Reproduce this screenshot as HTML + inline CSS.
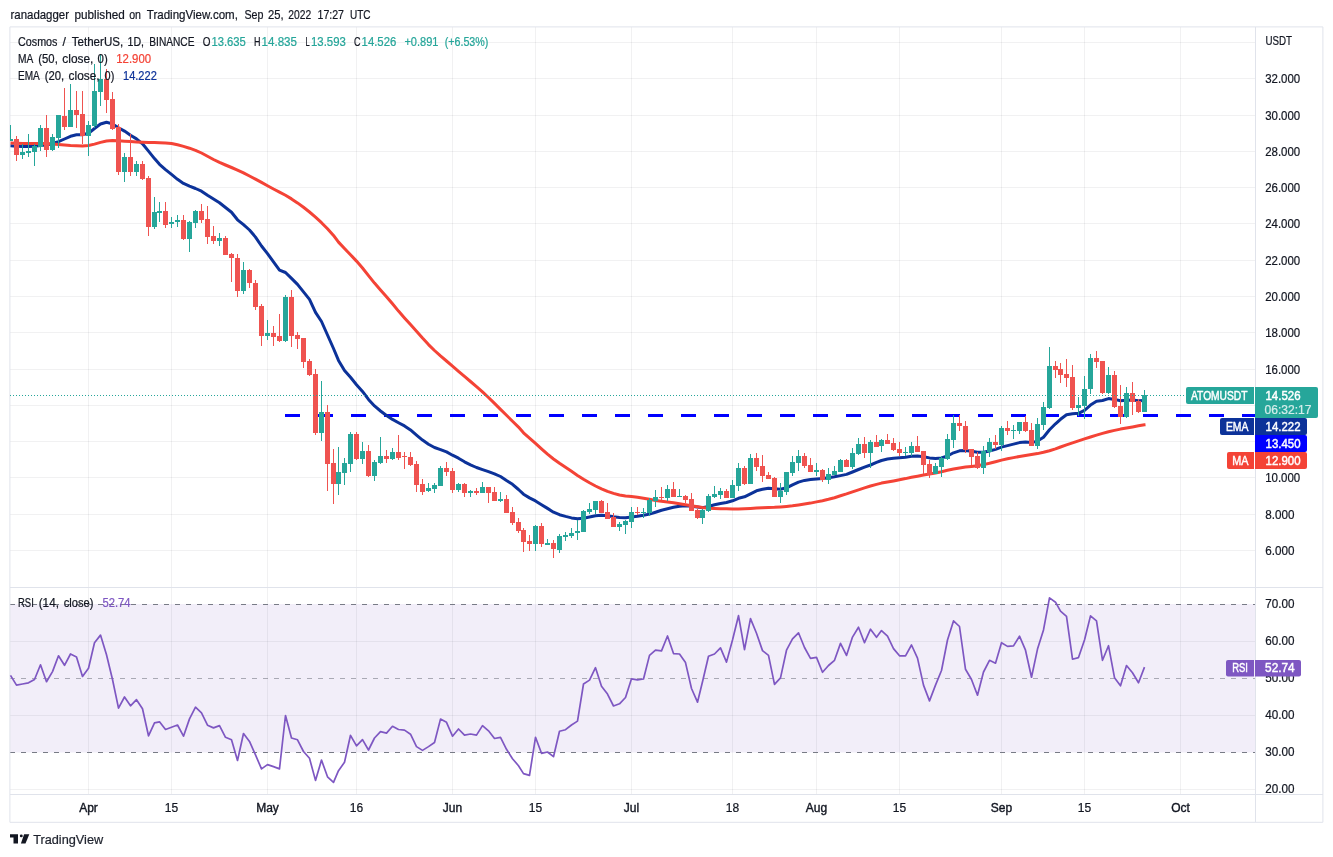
<!DOCTYPE html><html><head><meta charset="utf-8"><title>ATOMUSDT chart</title>
<style>html,body{margin:0;padding:0;background:#fff}body{width:1333px;height:857px;overflow:hidden}svg{display:block}text{font-family:"Liberation Sans", Arial, sans-serif;font-size:12px;fill:#131722}</style></head><body>
<svg width="1333" height="857" viewBox="0 0 1333 857">
<rect x="0" y="0" width="1333" height="857" fill="#fff"/>
<rect x="10" y="604.0" width="1245" height="148.5" fill="#f2eef9"/>
<path d="M88.5 27 V794 M171.5 27 V794 M267.5 27 V794 M356.5 27 V794 M452.5 27 V794 M535.5 27 V794 M631.5 27 V794 M732.5 27 V794 M816.5 27 V794 M899.5 27 V794 M1001.5 27 V794 M1084.5 27 V794 M1180.5 27 V794" stroke="rgba(42,46,57,0.065)" stroke-width="1" fill="none" shape-rendering="crispEdges"/>
<path d="M10 550.5 H1255 M10 514.5 H1255 M10 477.5 H1255 M10 441.5 H1255 M10 405.5 H1255 M10 369.5 H1255 M10 332.5 H1255 M10 296.5 H1255 M10 260.5 H1255 M10 223.5 H1255 M10 187.5 H1255 M10 151.5 H1255 M10 115.5 H1255 M10 78.5 H1255 M10 42.5 H1255 M10 641.5 H1255 M10 715.5 H1255 M10 789.5 H1255" stroke="rgba(42,46,57,0.065)" stroke-width="1" fill="none" shape-rendering="crispEdges"/>
<path d="M10 604.5 H1255" stroke="#787b86" stroke-width="1" stroke-dasharray="5 6" fill="none"/>
<path d="M10 678.5 H1255" stroke="#787b86" stroke-width="1" stroke-dasharray="5 6" fill="none" stroke-opacity="0.6"/>
<path d="M10 752.5 H1255" stroke="#787b86" stroke-width="1" stroke-dasharray="5 6" fill="none"/>
<path d="M1255.5 27 V822 M10 794.5 H1323 M10 587.5 H1323" stroke="#e0e3eb" stroke-width="1" fill="none" shape-rendering="crispEdges"/>
<path d="M9.9 26.9 H1322.9 V822.3 H9.9 Z" stroke="#e0e3eb" stroke-width="1" fill="none"/>
<path d="M285 415.5 H1255" stroke="#0000ff" stroke-width="3" stroke-dasharray="15 18" fill="none"/>
<polyline points="10.5,145.8 16.5,146.2 22.5,146.5 28.5,146.5 34.5,146.2 40.5,145.5 46.5,145.0 52.5,143.5 58.5,141.7 64.5,139.0 70.5,136.3 76.5,134.8 82.5,134.8 88.5,133.3 94.5,128.5 100.5,124.0 106.5,122.2 112.5,123.9 118.5,127.7 124.5,131.1 130.5,135.2 136.5,138.9 142.5,143.8 148.5,151.1 154.5,158.6 159.5,164.3 165.5,169.6 171.5,174.4 177.5,179.3 183.5,183.4 189.5,186.1 195.5,188.5 201.5,191.2 207.5,195.3 213.5,199.1 219.5,202.8 225.5,207.5 231.5,212.2 237.5,219.8 243.5,224.7 249.5,230.0 255.5,237.1 261.5,246.0 267.5,253.6 273.5,261.9 279.5,270.1 285.5,272.5 291.5,278.4 297.5,284.4 303.5,291.9 309.5,299.4 315.5,312.4 321.5,321.5 327.5,335.0 333.5,348.5 338.5,360.4 344.5,370.5 350.5,377.3 356.5,384.7 362.5,391.4 368.5,399.4 374.5,405.9 380.5,411.0 386.5,415.5 392.5,419.4 398.5,422.7 404.5,425.9 410.5,429.9 416.5,435.1 422.5,440.1 428.5,444.2 434.5,447.5 440.5,449.6 446.5,451.9 452.5,455.2 458.5,458.2 464.5,461.8 470.5,464.8 476.5,467.5 482.5,469.6 488.5,471.6 494.5,473.8 500.5,476.5 506.5,480.5 512.5,484.3 518.5,489.5 523.5,494.2 529.5,497.9 535.5,500.9 541.5,504.7 547.5,508.4 553.5,512.2 559.5,514.7 565.5,516.4 571.5,517.9 577.5,518.7 583.5,518.2 589.5,517.0 595.5,515.7 601.5,515.2 607.5,515.7 613.5,516.7 619.5,517.5 625.5,517.7 631.5,516.9 637.5,516.3 643.5,515.3 649.5,514.1 655.5,512.2 661.5,510.3 667.5,508.8 673.5,507.3 679.5,506.2 685.5,505.8 691.5,506.2 697.5,507.0 702.5,507.7 708.5,506.5 714.5,504.7 720.5,503.5 726.5,502.5 732.5,500.8 738.5,498.3 744.5,496.8 750.5,493.8 756.5,490.8 762.5,489.3 768.5,488.2 774.5,488.8 780.5,489.2 786.5,487.8 792.5,484.8 798.5,482.1 804.5,480.4 810.5,479.6 816.5,478.9 822.5,478.6 828.5,477.8 834.5,476.8 840.5,475.6 846.5,474.4 852.5,472.0 858.5,469.5 864.5,467.2 870.5,465.0 876.5,462.4 881.5,460.5 887.5,459.0 893.5,458.3 899.5,457.8 905.5,457.2 911.5,456.3 917.5,456.0 923.5,456.7 929.5,457.9 935.5,458.5 941.5,458.0 947.5,456.0 953.5,452.8 959.5,450.8 965.5,450.4 971.5,451.2 977.5,452.2 983.5,452.2 989.5,451.0 995.5,449.4 1001.5,447.1 1007.5,445.6 1013.5,444.1 1019.5,442.6 1025.5,441.9 1031.5,442.6 1037.5,441.1 1043.5,437.3 1049.5,429.8 1055.5,423.8 1060.5,419.3 1066.5,414.8 1072.5,413.7 1078.5,413.3 1084.5,410.3 1090.5,405.1 1096.5,401.3 1102.5,400.5 1108.5,398.6 1114.5,399.4 1120.5,400.7 1126.5,400.2 1132.5,400.0 1138.5,400.7 1144.5,400.5" fill="none" stroke="#0c3299" stroke-width="3" stroke-linejoin="round" stroke-linecap="butt"/>
<polyline points="10.5,143.1 16.5,143.2 22.5,143.4 28.5,143.4 34.5,143.4 40.5,143.4 46.5,143.6 52.5,144.1 58.5,144.6 64.5,145.0 70.5,145.5 76.5,145.8 82.5,146.0 88.5,145.5 94.5,144.1 100.5,142.4 106.5,141.0 112.5,140.6 118.5,140.8 124.5,141.2 130.5,141.6 136.5,141.9 142.5,142.2 148.5,142.4 154.5,142.6 159.5,142.7 165.5,142.9 171.5,143.5 177.5,144.8 183.5,146.4 189.5,148.2 195.5,150.3 201.5,153.0 207.5,156.2 213.5,159.5 219.5,162.4 225.5,165.0 231.5,167.5 237.5,170.1 243.5,172.9 249.5,176.0 255.5,179.1 261.5,182.4 267.5,185.7 273.5,189.0 279.5,192.1 285.5,195.3 291.5,198.9 297.5,202.9 303.5,207.3 309.5,212.0 315.5,217.1 321.5,222.7 327.5,228.8 333.5,235.4 338.5,242.1 344.5,248.5 350.5,254.7 356.5,261.1 362.5,268.0 368.5,275.6 374.5,283.1 380.5,290.0 386.5,296.7 392.5,303.8 398.5,311.1 404.5,318.0 410.5,324.6 416.5,331.3 422.5,338.1 428.5,344.6 434.5,350.5 440.5,355.9 446.5,361.0 452.5,366.1 458.5,371.3 464.5,376.4 470.5,381.5 476.5,386.6 482.5,391.9 488.5,397.5 494.5,403.4 500.5,409.4 506.5,415.3 512.5,421.2 518.5,427.1 523.5,432.8 529.5,438.2 535.5,443.4 541.5,448.9 547.5,454.2 553.5,459.0 559.5,463.3 565.5,467.3 571.5,471.3 577.5,475.4 583.5,479.2 589.5,482.8 595.5,486.0 601.5,488.8 607.5,491.4 613.5,493.4 619.5,495.0 625.5,496.0 631.5,496.6 637.5,497.3 643.5,498.3 649.5,499.3 655.5,500.4 661.5,501.3 667.5,502.1 673.5,502.8 679.5,503.7 685.5,504.7 691.5,505.8 697.5,506.8 702.5,507.6 708.5,508.3 714.5,508.6 720.5,508.8 726.5,508.8 732.5,508.9 738.5,508.9 744.5,508.7 750.5,508.4 756.5,508.1 762.5,507.8 768.5,507.5 774.5,507.3 780.5,506.9 786.5,506.4 792.5,505.8 798.5,505.0 804.5,504.1 810.5,503.1 816.5,501.9 822.5,500.7 828.5,499.3 834.5,497.7 840.5,495.8 846.5,493.9 852.5,491.8 858.5,489.8 864.5,487.9 870.5,486.0 876.5,484.4 881.5,483.1 887.5,482.0 893.5,480.9 899.5,479.7 905.5,478.6 911.5,477.3 917.5,476.2 923.5,475.1 929.5,474.0 935.5,472.9 941.5,471.7 947.5,470.3 953.5,469.0 959.5,467.9 965.5,467.1 971.5,466.4 977.5,465.7 983.5,464.6 989.5,463.3 995.5,461.7 1001.5,460.1 1007.5,458.8 1013.5,457.6 1019.5,456.5 1025.5,455.5 1031.5,454.6 1037.5,453.6 1043.5,452.3 1049.5,450.7 1055.5,448.9 1060.5,447.0 1066.5,444.9 1072.5,442.9 1078.5,440.9 1084.5,438.9 1090.5,437.0 1096.5,435.1 1102.5,433.4 1108.5,431.8 1114.5,430.4 1120.5,429.1 1126.5,428.0 1132.5,426.9 1138.5,425.8 1144.5,424.8 1145.5,424.7" fill="none" stroke="#f44336" stroke-width="3" stroke-linejoin="round" stroke-linecap="butt"/>
<path d="M10 125 h1 v16 h-1z M22 144 h1 v15 h-1z M28 134 h1 v23 h-1z M34 144 h1 v22 h-1z M40 125 h1 v26 h-1z M52 134 h1 v17 h-1z M58 115 h1 v33 h-1z M70 84 h1 v43 h-1z M88 121 h1 v35 h-1z M94 64 h1 v64 h-1z M100 55 h1 v51 h-1z M124 153 h1 v29 h-1z M136 161 h1 v15 h-1z M154 197 h1 v32 h-1z M159 202 h1 v20 h-1z M171 217 h1 v11 h-1z M177 215 h1 v12 h-1z M189 221 h1 v31 h-1z M195 210 h1 v18 h-1z M219 233 h1 v13 h-1z M243 262 h1 v32 h-1z M267 320 h1 v20 h-1z M285 295 h1 v47 h-1z M321 381 h1 v60 h-1z M338 447 h1 v48 h-1z M344 458 h1 v27 h-1z M350 432 h1 v40 h-1z M362 442 h1 v22 h-1z M374 460 h1 v21 h-1z M380 437 h1 v27 h-1z M392 448 h1 v12 h-1z M428 483 h1 v9 h-1z M434 483 h1 v10 h-1z M440 466 h1 v20 h-1z M458 483 h1 v9 h-1z M470 490 h1 v7 h-1z M482 482 h1 v11 h-1z M500 492 h1 v10 h-1z M535 525 h1 v26 h-1z M547 539 h1 v6 h-1z M559 534 h1 v19 h-1z M565 532 h1 v9 h-1z M571 528 h1 v10 h-1z M577 520 h1 v20 h-1z M583 510 h1 v22 h-1z M589 503 h1 v11 h-1z M595 501 h1 v13 h-1z M619 522 h1 v9 h-1z M625 520 h1 v14 h-1z M631 507 h1 v21 h-1z M643 508 h1 v10 h-1z M649 498 h1 v18 h-1z M655 490 h1 v17 h-1z M667 485 h1 v16 h-1z M679 489 h1 v8 h-1z M702 509 h1 v15 h-1z M708 494 h1 v18 h-1z M714 486 h1 v12 h-1z M720 488 h1 v11 h-1z M732 480 h1 v18 h-1z M738 463 h1 v28 h-1z M750 454 h1 v30 h-1z M780 483 h1 v20 h-1z M786 472 h1 v23 h-1z M792 456 h1 v20 h-1z M798 450 h1 v21 h-1z M816 463 h1 v13 h-1z M828 468 h1 v16 h-1z M834 466 h1 v9 h-1z M840 459 h1 v13 h-1z M852 448 h1 v21 h-1z M858 438 h1 v17 h-1z M870 440 h1 v28 h-1z M881 439 h1 v13 h-1z M905 447 h1 v9 h-1z M911 442 h1 v14 h-1z M935 463 h1 v11 h-1z M941 456 h1 v21 h-1z M947 434 h1 v26 h-1z M953 415 h1 v33 h-1z M983 446 h1 v28 h-1z M989 438 h1 v19 h-1z M1001 426 h1 v25 h-1z M1013 425 h1 v14 h-1z M1019 422 h1 v12 h-1z M1037 418 h1 v31 h-1z M1043 402 h1 v28 h-1z M1049 347 h1 v62 h-1z M1078 397 h1 v19 h-1z M1084 376 h1 v43 h-1z M1090 354 h1 v40 h-1z M1108 367 h1 v27 h-1z M1126 387 h1 v31 h-1z M1144 390 h1 v22 h-1z M10 139 h3 v2 h-3z M20 152 h5 v3 h-5z M26 151 h5 v2 h-5z M32 146 h5 v6 h-5z M38 128 h5 v19 h-5z M50 137 h5 v13 h-5z M56 115 h5 v23 h-5z M68 110 h5 v17 h-5z M86 125 h5 v11 h-5z M92 91 h5 v35 h-5z M98 79 h5 v13 h-5z M122 157 h5 v15 h-5z M134 164 h5 v8 h-5z M152 212 h5 v15 h-5z M157 211 h5 v2 h-5z M169 222 h5 v2 h-5z M175 220 h5 v2 h-5z M187 222 h5 v17 h-5z M193 211 h5 v12 h-5z M217 238 h5 v3 h-5z M241 270 h5 v21 h-5z M265 333 h5 v3 h-5z M283 297 h5 v44 h-5z M319 412 h5 v21 h-5z M336 472 h5 v12 h-5z M342 463 h5 v10 h-5z M348 434 h5 v30 h-5z M360 451 h5 v8 h-5z M372 462 h5 v14 h-5z M378 456 h5 v7 h-5z M390 452 h5 v7 h-5z M426 488 h5 v3 h-5z M432 485 h5 v4 h-5z M438 468 h5 v18 h-5z M456 484 h5 v6 h-5z M468 491 h5 v2 h-5z M480 487 h5 v6 h-5z M498 499 h5 v2 h-5z M533 526 h5 v18 h-5z M545 543 h5 v2 h-5z M557 536 h5 v14 h-5z M563 535 h5 v2 h-5z M569 533 h5 v3 h-5z M575 531 h5 v2 h-5z M581 511 h5 v21 h-5z M587 509 h5 v3 h-5z M593 501 h5 v9 h-5z M617 524 h5 v3 h-5z M623 521 h5 v4 h-5z M629 512 h5 v10 h-5z M641 512 h5 v1 h-5z M647 500 h5 v13 h-5z M653 497 h5 v4 h-5z M665 489 h5 v9 h-5z M677 496 h5 v1 h-5z M700 510 h5 v8 h-5z M706 496 h5 v15 h-5z M712 494 h5 v3 h-5z M718 491 h5 v4 h-5z M730 485 h5 v13 h-5z M736 468 h5 v18 h-5z M748 458 h5 v26 h-5z M778 491 h5 v6 h-5z M784 472 h5 v20 h-5z M790 462 h5 v11 h-5z M796 456 h5 v7 h-5z M814 470 h5 v2 h-5z M826 474 h5 v6 h-5z M832 471 h5 v4 h-5z M838 460 h5 v12 h-5z M850 453 h5 v14 h-5z M856 444 h5 v10 h-5z M868 442 h5 v11 h-5z M879 440 h5 v6 h-5z M903 452 h5 v1 h-5z M909 446 h5 v7 h-5z M933 466 h5 v8 h-5z M939 458 h5 v9 h-5z M945 439 h5 v20 h-5z M951 423 h5 v17 h-5z M981 451 h5 v17 h-5z M987 442 h5 v10 h-5z M999 428 h5 v17 h-5z M1011 430 h5 v1 h-5z M1017 422 h5 v9 h-5z M1035 424 h5 v22 h-5z M1041 407 h5 v18 h-5z M1047 366 h5 v42 h-5z M1076 405 h5 v3 h-5z M1082 389 h5 v17 h-5z M1088 358 h5 v31 h-5z M1106 375 h5 v18 h-5z M1124 393 h5 v24 h-5z M1142 395 h5 v17 h-5z" fill="#26a69a" shape-rendering="crispEdges"/>
<path d="M16 136 h1 v25 h-1z M46 115 h1 v42 h-1z M64 88 h1 v42 h-1z M76 91 h1 v37 h-1z M82 91 h1 v53 h-1z M106 69 h1 v44 h-1z M112 92 h1 v38 h-1z M118 124 h1 v51 h-1z M130 134 h1 v42 h-1z M142 161 h1 v19 h-1z M148 176 h1 v60 h-1z M165 202 h1 v26 h-1z M183 215 h1 v25 h-1z M201 204 h1 v19 h-1z M207 206 h1 v38 h-1z M213 226 h1 v18 h-1z M225 236 h1 v19 h-1z M231 253 h1 v29 h-1z M237 254 h1 v43 h-1z M249 269 h1 v19 h-1z M255 280 h1 v30 h-1z M261 304 h1 v42 h-1z M273 326 h1 v20 h-1z M279 314 h1 v28 h-1z M291 290 h1 v57 h-1z M297 332 h1 v17 h-1z M303 338 h1 v30 h-1z M309 359 h1 v17 h-1z M315 369 h1 v66 h-1z M327 405 h1 v86 h-1z M333 449 h1 v55 h-1z M356 432 h1 v28 h-1z M368 445 h1 v32 h-1z M386 450 h1 v13 h-1z M398 435 h1 v25 h-1z M404 452 h1 v17 h-1z M410 452 h1 v14 h-1z M416 461 h1 v31 h-1z M422 479 h1 v16 h-1z M446 462 h1 v14 h-1z M452 468 h1 v25 h-1z M464 483 h1 v14 h-1z M476 488 h1 v7 h-1z M488 487 h1 v16 h-1z M494 487 h1 v14 h-1z M506 495 h1 v18 h-1z M512 507 h1 v18 h-1z M518 518 h1 v15 h-1z M523 528 h1 v24 h-1z M529 535 h1 v16 h-1z M541 523 h1 v24 h-1z M553 540 h1 v18 h-1z M601 500 h1 v13 h-1z M607 503 h1 v16 h-1z M613 513 h1 v14 h-1z M637 507 h1 v8 h-1z M661 487 h1 v13 h-1z M673 482 h1 v15 h-1z M685 495 h1 v8 h-1z M691 493 h1 v18 h-1z M697 509 h1 v10 h-1z M726 489 h1 v9 h-1z M744 466 h1 v19 h-1z M756 453 h1 v18 h-1z M762 455 h1 v27 h-1z M768 472 h1 v7 h-1z M774 477 h1 v20 h-1z M804 453 h1 v15 h-1z M810 458 h1 v14 h-1z M822 469 h1 v13 h-1z M846 459 h1 v8 h-1z M864 437 h1 v21 h-1z M876 435 h1 v12 h-1z M887 434 h1 v10 h-1z M893 438 h1 v13 h-1z M899 442 h1 v14 h-1z M917 436 h1 v16 h-1z M923 451 h1 v23 h-1z M929 460 h1 v18 h-1z M959 415 h1 v16 h-1z M965 421 h1 v32 h-1z M971 449 h1 v16 h-1z M977 452 h1 v17 h-1z M995 435 h1 v14 h-1z M1007 421 h1 v14 h-1z M1025 416 h1 v16 h-1z M1031 423 h1 v23 h-1z M1055 361 h1 v17 h-1z M1060 363 h1 v20 h-1z M1066 359 h1 v28 h-1z M1072 365 h1 v45 h-1z M1096 351 h1 v17 h-1z M1102 361 h1 v33 h-1z M1114 371 h1 v37 h-1z M1120 385 h1 v39 h-1z M1132 382 h1 v33 h-1z M1138 399 h1 v14 h-1z M14 139 h5 v16 h-5z M44 128 h5 v22 h-5z M62 116 h5 v11 h-5z M74 110 h5 v5 h-5z M80 114 h5 v22 h-5z M104 79 h5 v21 h-5z M110 99 h5 v30 h-5z M116 127 h5 v45 h-5z M128 157 h5 v15 h-5z M140 164 h5 v15 h-5z M146 178 h5 v49 h-5z M163 211 h5 v14 h-5z M181 220 h5 v19 h-5z M199 211 h5 v9 h-5z M205 219 h5 v18 h-5z M211 236 h5 v5 h-5z M223 238 h5 v17 h-5z M229 254 h5 v4 h-5z M235 258 h5 v33 h-5z M247 270 h5 v13 h-5z M253 283 h5 v24 h-5z M259 306 h5 v30 h-5z M271 333 h5 v4 h-5z M277 336 h5 v5 h-5z M289 297 h5 v39 h-5z M295 335 h5 v4 h-5z M301 338 h5 v24 h-5z M307 361 h5 v14 h-5z M313 374 h5 v59 h-5z M325 412 h5 v52 h-5z M331 463 h5 v21 h-5z M354 434 h5 v25 h-5z M366 451 h5 v25 h-5z M384 456 h5 v3 h-5z M396 452 h5 v6 h-5z M402 456 h5 v1 h-5z M408 457 h5 v8 h-5z M414 464 h5 v21 h-5z M420 484 h5 v8 h-5z M444 468 h5 v4 h-5z M450 471 h5 v19 h-5z M462 484 h5 v9 h-5z M474 491 h5 v2 h-5z M486 487 h5 v6 h-5z M492 492 h5 v9 h-5z M504 499 h5 v14 h-5z M510 512 h5 v11 h-5z M516 522 h5 v9 h-5z M521 530 h5 v12 h-5z M527 541 h5 v3 h-5z M539 526 h5 v18 h-5z M551 543 h5 v6 h-5z M599 501 h5 v12 h-5z M605 512 h5 v7 h-5z M611 517 h5 v10 h-5z M635 512 h5 v1 h-5z M659 497 h5 v1 h-5z M671 489 h5 v8 h-5z M683 496 h5 v4 h-5z M689 499 h5 v12 h-5z M695 510 h5 v8 h-5z M724 491 h5 v7 h-5z M742 468 h5 v16 h-5z M754 458 h5 v9 h-5z M760 466 h5 v10 h-5z M766 475 h5 v4 h-5z M772 478 h5 v19 h-5z M802 456 h5 v10 h-5z M808 465 h5 v7 h-5z M820 470 h5 v10 h-5z M844 460 h5 v7 h-5z M862 444 h5 v9 h-5z M874 442 h5 v5 h-5z M885 440 h5 v4 h-5z M891 443 h5 v7 h-5z M897 449 h5 v4 h-5z M915 446 h5 v6 h-5z M921 451 h5 v14 h-5z M927 464 h5 v11 h-5z M957 423 h5 v3 h-5z M963 426 h5 v24 h-5z M969 449 h5 v8 h-5z M975 456 h5 v12 h-5z M993 442 h5 v3 h-5z M1005 428 h5 v3 h-5z M1023 422 h5 v9 h-5z M1029 430 h5 v16 h-5z M1053 366 h5 v4 h-5z M1058 369 h5 v6 h-5z M1064 374 h5 v4 h-5z M1070 377 h5 v31 h-5z M1094 358 h5 v4 h-5z M1100 361 h5 v32 h-5z M1112 375 h5 v32 h-5z M1118 406 h5 v11 h-5z M1130 393 h5 v9 h-5z M1136 401 h5 v11 h-5z" fill="#ef5350" shape-rendering="crispEdges"/>
<path d="M10 395.5 H1255" stroke="#26a69a" stroke-width="1" stroke-dasharray="1 2" fill="none"/>
<polyline points="10.5,675.4 16.5,685.1 22.5,684.0 28.5,682.8 34.5,679.5 40.5,664.8 46.5,681.7 52.5,671.6 58.5,655.8 64.5,665.3 70.5,654.0 76.5,656.9 82.5,676.5 88.5,668.2 94.5,642.7 100.5,635.1 106.5,654.7 112.5,679.5 118.5,708.1 124.5,697.0 130.5,705.8 136.5,699.7 142.5,708.7 148.5,735.8 154.5,722.9 159.5,721.8 165.5,729.5 171.5,727.2 177.5,725.0 183.5,736.2 189.5,718.9 195.5,707.2 201.5,712.8 207.5,725.2 213.5,727.9 219.5,725.6 225.5,737.3 231.5,739.8 237.5,760.5 243.5,733.5 249.5,741.4 255.5,754.9 261.5,768.9 267.5,764.6 273.5,766.6 279.5,768.9 285.5,715.5 291.5,738.0 297.5,739.8 303.5,751.5 309.5,758.3 315.5,780.4 321.5,760.1 327.5,776.8 333.5,782.4 338.5,770.7 344.5,762.3 350.5,735.3 356.5,745.9 362.5,739.6 368.5,750.0 374.5,738.0 380.5,731.7 386.5,733.1 392.5,726.3 398.5,729.5 404.5,730.1 410.5,734.2 416.5,746.6 422.5,750.4 428.5,746.6 434.5,742.5 440.5,719.1 446.5,722.3 452.5,736.2 458.5,729.0 464.5,735.1 470.5,734.0 476.5,735.1 482.5,725.6 488.5,730.8 494.5,738.5 500.5,737.3 506.5,749.3 512.5,758.7 518.5,765.7 523.5,773.6 529.5,775.4 535.5,737.3 541.5,753.3 547.5,752.0 553.5,756.7 559.5,731.3 565.5,729.7 571.5,725.0 577.5,721.1 583.5,684.0 589.5,680.1 595.5,667.7 601.5,686.2 607.5,694.1 613.5,706.0 619.5,703.8 625.5,697.5 631.5,678.8 637.5,679.9 643.5,679.0 649.5,655.4 655.5,650.2 661.5,650.9 667.5,636.0 673.5,653.6 679.5,654.0 685.5,662.6 691.5,688.5 697.5,702.2 702.5,681.7 708.5,656.3 714.5,654.0 720.5,647.9 726.5,662.1 732.5,640.0 738.5,615.7 744.5,649.7 750.5,618.6 756.5,633.3 762.5,650.6 768.5,655.4 774.5,684.4 780.5,677.9 786.5,650.2 792.5,638.9 798.5,632.8 804.5,647.5 810.5,658.3 816.5,657.4 822.5,672.3 828.5,665.5 834.5,660.3 840.5,643.4 846.5,655.4 852.5,637.1 858.5,627.2 864.5,642.7 870.5,629.2 876.5,637.3 881.5,630.6 887.5,636.2 893.5,648.6 899.5,655.8 905.5,655.8 911.5,645.0 917.5,658.1 923.5,685.1 929.5,700.9 935.5,685.1 941.5,670.5 947.5,640.0 953.5,620.9 959.5,626.5 965.5,669.3 971.5,679.5 977.5,695.2 983.5,672.0 989.5,660.3 995.5,663.2 1001.5,642.7 1007.5,646.4 1013.5,645.9 1019.5,636.2 1025.5,650.2 1031.5,677.2 1037.5,649.1 1043.5,629.9 1049.5,597.9 1055.5,602.2 1060.5,611.2 1066.5,616.4 1072.5,659.2 1078.5,657.6 1084.5,640.0 1090.5,615.9 1096.5,620.9 1102.5,660.3 1108.5,645.7 1114.5,677.7 1120.5,685.8 1126.5,665.5 1132.5,672.7 1138.5,682.8 1144.5,667.1" fill="none" stroke="#7e57c2" stroke-width="1.7" stroke-linejoin="round" stroke-linecap="butt"/>
<text x="10.5" y="18.8" textLength="58.5" lengthAdjust="spacingAndGlyphs" style="font-size:13px;stroke:#131722;stroke-width:0.22;">ranadagger</text>
<text x="74.5" y="18.8" textLength="50.2" lengthAdjust="spacingAndGlyphs" style="font-size:13px;stroke:#131722;stroke-width:0.22;">published</text>
<text x="129.2" y="18.8" textLength="11.8" lengthAdjust="spacingAndGlyphs" style="font-size:13px;stroke:#131722;stroke-width:0.22;">on</text>
<text x="146.8" y="18.8" textLength="91.1" lengthAdjust="spacingAndGlyphs" style="font-size:13px;stroke:#131722;stroke-width:0.22;">TradingView.com,</text>
<text x="244.5" y="18.8" textLength="19.0" lengthAdjust="spacingAndGlyphs" style="font-size:13px;stroke:#131722;stroke-width:0.22;">Sep</text>
<text x="268.0" y="18.8" textLength="15.6" lengthAdjust="spacingAndGlyphs" style="font-size:13px;stroke:#131722;stroke-width:0.22;">25,</text>
<text x="288.3" y="18.8" textLength="22.9" lengthAdjust="spacingAndGlyphs" style="font-size:13px;stroke:#131722;stroke-width:0.22;">2022</text>
<text x="317.5" y="18.8" textLength="26.5" lengthAdjust="spacingAndGlyphs" style="font-size:13px;stroke:#131722;stroke-width:0.22;">17:27</text>
<text x="350.0" y="18.8" textLength="20.6" lengthAdjust="spacingAndGlyphs" style="font-size:13px;stroke:#131722;stroke-width:0.22;">UTC</text>
<text x="18.0" y="45.5" textLength="39.5" lengthAdjust="spacingAndGlyphs" style="stroke:#131722;stroke-width:0.22;">Cosmos</text>
<text x="62.4" y="45.5" textLength="3.4" lengthAdjust="spacingAndGlyphs" style="stroke:#131722;stroke-width:0.22;">/</text>
<text x="71.7" y="45.5" textLength="51.5" lengthAdjust="spacingAndGlyphs" style="stroke:#131722;stroke-width:0.22;">TetherUS,</text>
<text x="127.5" y="45.5" textLength="16.5" lengthAdjust="spacingAndGlyphs" style="stroke:#131722;stroke-width:0.22;">1D,</text>
<text x="149.3" y="45.5" textLength="45.2" lengthAdjust="spacingAndGlyphs" style="stroke:#131722;stroke-width:0.22;">BINANCE</text>
<text x="202.8" y="45.5" textLength="7.7" lengthAdjust="spacingAndGlyphs" style="stroke:#131722;stroke-width:0.22;">O</text>
<text x="211.4" y="45.5" textLength="34.4" lengthAdjust="spacingAndGlyphs" style="fill:#26a69a;stroke:#26a69a;stroke-width:0.22;">13.635</text>
<text x="254.0" y="45.5" textLength="6.5" lengthAdjust="spacingAndGlyphs" style="stroke:#131722;stroke-width:0.22;">H</text>
<text x="261.6" y="45.5" textLength="35.4" lengthAdjust="spacingAndGlyphs" style="fill:#26a69a;stroke:#26a69a;stroke-width:0.22;">14.835</text>
<text x="305.6" y="45.5" textLength="4.2" lengthAdjust="spacingAndGlyphs" style="stroke:#131722;stroke-width:0.22;">L</text>
<text x="311.0" y="45.5" textLength="34.8" lengthAdjust="spacingAndGlyphs" style="fill:#26a69a;stroke:#26a69a;stroke-width:0.22;">13.593</text>
<text x="354.0" y="45.5" textLength="6.5" lengthAdjust="spacingAndGlyphs" style="stroke:#131722;stroke-width:0.22;">C</text>
<text x="361.6" y="45.5" textLength="34.7" lengthAdjust="spacingAndGlyphs" style="fill:#26a69a;stroke:#26a69a;stroke-width:0.22;">14.526</text>
<text x="404.4" y="45.5" textLength="34.0" lengthAdjust="spacingAndGlyphs" style="fill:#26a69a;stroke:#26a69a;stroke-width:0.22;">+0.891</text>
<text x="444.7" y="45.5" textLength="43.7" lengthAdjust="spacingAndGlyphs" style="fill:#26a69a;stroke:#26a69a;stroke-width:0.22;">(+6.53%)</text>
<text x="18.0" y="62.6" textLength="15.3" lengthAdjust="spacingAndGlyphs" style="stroke:#131722;stroke-width:0.22;">MA</text>
<text x="38.3" y="62.6" textLength="19.5" lengthAdjust="spacingAndGlyphs" style="stroke:#131722;stroke-width:0.22;">(50,</text>
<text x="62.3" y="62.6" textLength="31.1" lengthAdjust="spacingAndGlyphs" style="stroke:#131722;stroke-width:0.22;">close,</text>
<text x="97.5" y="62.6" textLength="10.2" lengthAdjust="spacingAndGlyphs" style="stroke:#131722;stroke-width:0.22;">0)</text>
<text x="116.3" y="62.6" textLength="34.8" lengthAdjust="spacingAndGlyphs" style="fill:#f44336;stroke:#f44336;stroke-width:0.22;">12.900</text>
<text x="18.0" y="79.5" textLength="21.8" lengthAdjust="spacingAndGlyphs" style="stroke:#131722;stroke-width:0.22;">EMA</text>
<text x="44.7" y="79.5" textLength="19.5" lengthAdjust="spacingAndGlyphs" style="stroke:#131722;stroke-width:0.22;">(20,</text>
<text x="68.6" y="79.5" textLength="31.0" lengthAdjust="spacingAndGlyphs" style="stroke:#131722;stroke-width:0.22;">close,</text>
<text x="104.6" y="79.5" textLength="9.7" lengthAdjust="spacingAndGlyphs" style="stroke:#131722;stroke-width:0.22;">0)</text>
<text x="123.0" y="79.5" textLength="33.8" lengthAdjust="spacingAndGlyphs" style="fill:#0c3299;stroke:#0c3299;stroke-width:0.22;">14.222</text>
<text x="18.0" y="606.7" textLength="15.8" lengthAdjust="spacingAndGlyphs" style="stroke:#131722;stroke-width:0.22;">RSI</text>
<text x="38.7" y="606.7" textLength="20.3" lengthAdjust="spacingAndGlyphs" style="stroke:#131722;stroke-width:0.22;">(14,</text>
<text x="63.7" y="606.7" textLength="29.8" lengthAdjust="spacingAndGlyphs" style="stroke:#131722;stroke-width:0.22;">close)</text>
<text x="102.5" y="606.7" textLength="28.1" lengthAdjust="spacingAndGlyphs" style="fill:#7e57c2;stroke:#7e57c2;stroke-width:0.22;">52.74</text>
<text x="1265.4" y="44.6" textLength="26.6" lengthAdjust="spacingAndGlyphs" style="stroke:#131722;stroke-width:0.22;">USDT</text>
<text x="1265.2" y="82.6" textLength="35.0" lengthAdjust="spacingAndGlyphs" style="stroke:#131722;stroke-width:0.22;">32.000</text>
<text x="1265.2" y="119.6" textLength="35.0" lengthAdjust="spacingAndGlyphs" style="stroke:#131722;stroke-width:0.22;">30.000</text>
<text x="1265.2" y="155.6" textLength="35.0" lengthAdjust="spacingAndGlyphs" style="stroke:#131722;stroke-width:0.22;">28.000</text>
<text x="1265.2" y="191.6" textLength="35.0" lengthAdjust="spacingAndGlyphs" style="stroke:#131722;stroke-width:0.22;">26.000</text>
<text x="1265.2" y="227.6" textLength="35.0" lengthAdjust="spacingAndGlyphs" style="stroke:#131722;stroke-width:0.22;">24.000</text>
<text x="1265.2" y="264.6" textLength="35.0" lengthAdjust="spacingAndGlyphs" style="stroke:#131722;stroke-width:0.22;">22.000</text>
<text x="1265.2" y="300.6" textLength="35.0" lengthAdjust="spacingAndGlyphs" style="stroke:#131722;stroke-width:0.22;">20.000</text>
<text x="1265.2" y="336.6" textLength="35.0" lengthAdjust="spacingAndGlyphs" style="stroke:#131722;stroke-width:0.22;">18.000</text>
<text x="1265.2" y="373.6" textLength="35.0" lengthAdjust="spacingAndGlyphs" style="stroke:#131722;stroke-width:0.22;">16.000</text>
<text x="1265.2" y="409.6" textLength="35.0" lengthAdjust="spacingAndGlyphs" style="stroke:#131722;stroke-width:0.22;">14.000</text>
<text x="1265.2" y="445.6" textLength="35.0" lengthAdjust="spacingAndGlyphs" style="stroke:#131722;stroke-width:0.22;">12.000</text>
<text x="1265.2" y="481.6" textLength="35.0" lengthAdjust="spacingAndGlyphs" style="stroke:#131722;stroke-width:0.22;">10.000</text>
<text x="1265.2" y="518.6" textLength="29.2" lengthAdjust="spacingAndGlyphs" style="stroke:#131722;stroke-width:0.22;">8.000</text>
<text x="1265.2" y="554.6" textLength="29.2" lengthAdjust="spacingAndGlyphs" style="stroke:#131722;stroke-width:0.22;">6.000</text>
<text x="1265.2" y="608.4" textLength="29.2" lengthAdjust="spacingAndGlyphs" style="stroke:#131722;stroke-width:0.22;">70.00</text>
<text x="1265.2" y="645.4" textLength="29.2" lengthAdjust="spacingAndGlyphs" style="stroke:#131722;stroke-width:0.22;">60.00</text>
<text x="1265.2" y="682.4" textLength="29.2" lengthAdjust="spacingAndGlyphs" style="stroke:#131722;stroke-width:0.22;">50.00</text>
<text x="1265.2" y="719.4" textLength="29.2" lengthAdjust="spacingAndGlyphs" style="stroke:#131722;stroke-width:0.22;">40.00</text>
<text x="1265.2" y="756.4" textLength="29.2" lengthAdjust="spacingAndGlyphs" style="stroke:#131722;stroke-width:0.22;">30.00</text>
<text x="1265.2" y="792.9" textLength="29.2" lengthAdjust="spacingAndGlyphs" style="stroke:#131722;stroke-width:0.22;">20.00</text>
<text x="88.5" y="811.6" text-anchor="middle" stroke="#131722" stroke-width="0.38">Apr</text>
<text x="171.5" y="811.6" style="stroke:#131722;stroke-width:0.22;" text-anchor="middle">15</text>
<text x="267.5" y="811.6" text-anchor="middle" stroke="#131722" stroke-width="0.38">May</text>
<text x="356.5" y="811.6" style="stroke:#131722;stroke-width:0.22;" text-anchor="middle">16</text>
<text x="452.5" y="811.6" text-anchor="middle" stroke="#131722" stroke-width="0.38">Jun</text>
<text x="535.5" y="811.6" style="stroke:#131722;stroke-width:0.22;" text-anchor="middle">15</text>
<text x="631.5" y="811.6" text-anchor="middle" stroke="#131722" stroke-width="0.38">Jul</text>
<text x="732.5" y="811.6" style="stroke:#131722;stroke-width:0.22;" text-anchor="middle">18</text>
<text x="816.5" y="811.6" text-anchor="middle" stroke="#131722" stroke-width="0.38">Aug</text>
<text x="899.5" y="811.6" style="stroke:#131722;stroke-width:0.22;" text-anchor="middle">15</text>
<text x="1001.5" y="811.6" text-anchor="middle" stroke="#131722" stroke-width="0.38">Sep</text>
<text x="1084.5" y="811.6" style="stroke:#131722;stroke-width:0.22;" text-anchor="middle">15</text>
<text x="1180.5" y="811.6" text-anchor="middle" stroke="#131722" stroke-width="0.38">Oct</text>
<path d="M1188.0 387.0 H1254.0 Q1254.0 387.0 1254.0 387.0 V404.0 Q1254.0 404.0 1254.0 404.0 H1188.0 Q1186.0 404.0 1186.0 402.0 V389.0 Q1186.0 387.0 1188.0 387.0 Z" fill="#26a69a"/>
<path d="M1255.0 387.0 H1316.0 Q1318.0 387.0 1318.0 389.0 V416.0 Q1318.0 418.0 1316.0 418.0 H1255.0 Q1255.0 418.0 1255.0 418.0 V387.0 Q1255.0 387.0 1255.0 387.0 Z" fill="#26a69a"/>
<text x="1191.0" y="399.6" textLength="56.5" lengthAdjust="spacingAndGlyphs" style="fill:#ffffff;stroke:#ffffff;stroke-width:0.45;">ATOMUSDT</text>
<text x="1265.5" y="399.6" textLength="35.0" lengthAdjust="spacingAndGlyphs" style="fill:#ffffff;stroke:#ffffff;stroke-width:0.45;">14.526</text>
<text x="1264.6" y="414.0" textLength="46.9" lengthAdjust="spacingAndGlyphs" style="fill:#d4edea;stroke:#d4edea;stroke-width:0.22;">06:32:17</text>
<path d="M1222.0 418.0 H1254.0 Q1254.0 418.0 1254.0 418.0 V435.0 Q1254.0 435.0 1254.0 435.0 H1222.0 Q1220.0 435.0 1220.0 433.0 V420.0 Q1220.0 418.0 1222.0 418.0 Z" fill="#0c3299"/>
<path d="M1255.0 418.0 H1305.0 Q1307.0 418.0 1307.0 420.0 V433.0 Q1307.0 435.0 1305.0 435.0 H1255.0 Q1255.0 435.0 1255.0 435.0 V418.0 Q1255.0 418.0 1255.0 418.0 Z" fill="#0c3299"/>
<text x="1225.9" y="430.9" textLength="22.5" lengthAdjust="spacingAndGlyphs" style="fill:#ffffff;stroke:#ffffff;stroke-width:0.45;">EMA</text>
<text x="1265.6" y="430.9" textLength="34.9" lengthAdjust="spacingAndGlyphs" style="fill:#ffffff;stroke:#ffffff;stroke-width:0.45;">14.222</text>
<path d="M1255.0 435.0 H1305.0 Q1307.0 435.0 1307.0 437.0 V450.0 Q1307.0 452.0 1305.0 452.0 H1255.0 Q1255.0 452.0 1255.0 452.0 V435.0 Q1255.0 435.0 1255.0 435.0 Z" fill="#0000ff"/>
<text x="1265.6" y="447.7" textLength="34.9" lengthAdjust="spacingAndGlyphs" style="fill:#ffffff;stroke:#ffffff;stroke-width:0.45;">13.450</text>
<path d="M1229.0 452.0 H1254.0 Q1254.0 452.0 1254.0 452.0 V469.0 Q1254.0 469.0 1254.0 469.0 H1229.0 Q1227.0 469.0 1227.0 467.0 V454.0 Q1227.0 452.0 1229.0 452.0 Z" fill="#f44336"/>
<path d="M1255.0 452.0 H1305.0 Q1307.0 452.0 1307.0 454.0 V467.0 Q1307.0 469.0 1305.0 469.0 H1255.0 Q1255.0 469.0 1255.0 469.0 V452.0 Q1255.0 452.0 1255.0 452.0 Z" fill="#f44336"/>
<text x="1232.2" y="464.8" textLength="16.2" lengthAdjust="spacingAndGlyphs" style="fill:#ffffff;stroke:#ffffff;stroke-width:0.45;">MA</text>
<text x="1265.6" y="464.8" textLength="34.9" lengthAdjust="spacingAndGlyphs" style="fill:#ffffff;stroke:#ffffff;stroke-width:0.45;">12.900</text>
<path d="M1228.0 660.0 H1254.0 Q1254.0 660.0 1254.0 660.0 V676.5 Q1254.0 676.5 1254.0 676.5 H1228.0 Q1226.0 676.5 1226.0 674.5 V662.0 Q1226.0 660.0 1228.0 660.0 Z" fill="#7e57c2"/>
<path d="M1255.0 660.0 H1299.0 Q1301.0 660.0 1301.0 662.0 V674.5 Q1301.0 676.5 1299.0 676.5 H1255.0 Q1255.0 676.5 1255.0 676.5 V660.0 Q1255.0 660.0 1255.0 660.0 Z" fill="#7e57c2"/>
<text x="1232.2" y="672.4" textLength="15.8" lengthAdjust="spacingAndGlyphs" style="fill:#ffffff;stroke:#ffffff;stroke-width:0.45;">RSI</text>
<text x="1265.1" y="672.4" textLength="29.6" lengthAdjust="spacingAndGlyphs" style="fill:#ffffff;stroke:#ffffff;stroke-width:0.45;">52.74</text>
<g fill="#131722"><path d="M10 834.3 H18 V843.6 H13.5 V837.4 H10 Z"/><circle cx="21.3" cy="835.9" r="1.45"/><path d="M24.1 834.3 H29.3 L25.5 843.6 H20.9 Z"/></g>
<text x="33.2" y="843.6" textLength="70.0" lengthAdjust="spacingAndGlyphs" style="fill:#1e222d;font-size:13px;stroke:#1e222d;stroke-width:0.22;">TradingView</text>
</svg></body></html>
